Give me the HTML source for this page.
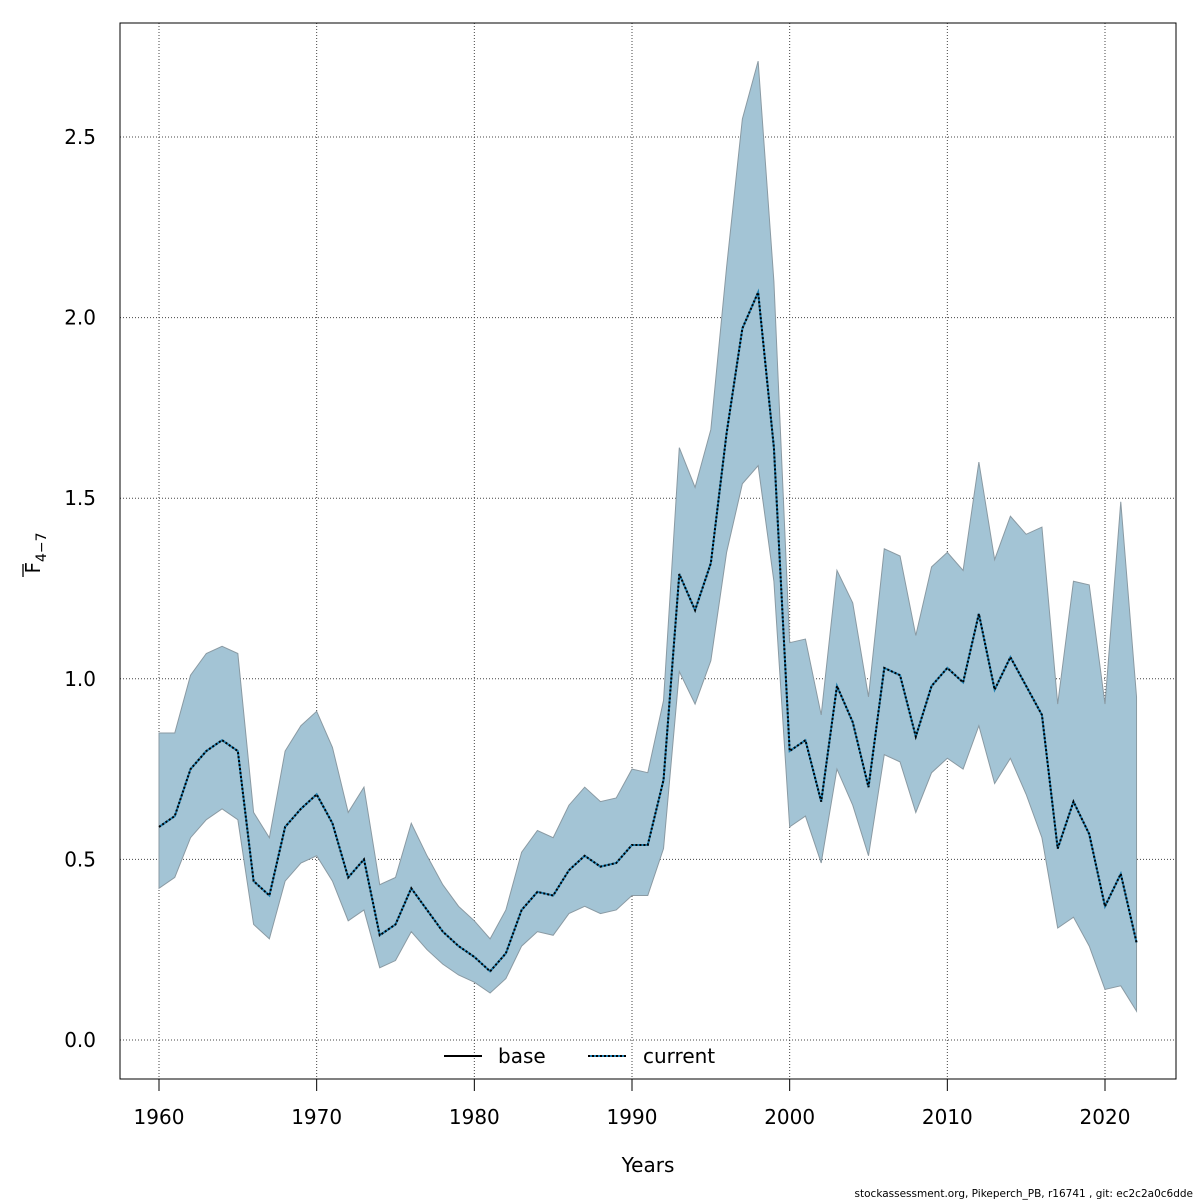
<!DOCTYPE html>
<html><head><meta charset="utf-8">
<style>
html,body{margin:0;padding:0;background:#fff;}
svg{display:block;font-family:"DejaVu Sans","Liberation Sans",sans-serif;}
</style></head>
<body>
<svg id="chart" width="1200" height="1200" viewBox="0 0 1200 1200" xmlns="http://www.w3.org/2000/svg">
<rect x="0" y="0" width="1200" height="1200" fill="#fff"/>
<g id="grid"></g>
<g id="band"></g>
<g id="lines"></g>
<rect x="120" y="23" width="1056" height="1056" fill="none" stroke="#000" stroke-width="1"/>
<g id="xaxis"></g>
<g id="yaxis"></g>
<text x="648" y="1172" font-size="20" text-anchor="middle">Years</text>
<g transform="translate(40,553) rotate(-90)">
  <text x="0" y="0" font-size="20" text-anchor="middle">F<tspan font-size="14" dy="6">4−7</tspan></text>
  <line x1="-24" y1="-17" x2="-11" y2="-17" stroke="#000" stroke-width="1.3"/>
</g>
<g>
  <g>
    <line x1="444" y1="1056" x2="482" y2="1056" stroke="#000" stroke-width="2"/>
    <text x="498" y="1063" font-size="20">base</text>
  </g>
  <g>
    <line x1="588" y1="1056" x2="626" y2="1056" stroke="#1f7fb0" stroke-width="2"/>
    <line x1="588" y1="1056" x2="626" y2="1056" stroke="#000" stroke-width="2" stroke-dasharray="2,2"/>
    <text x="643" y="1063" font-size="20">current</text>
  </g>
</g>
<text x="1193" y="1197" font-size="10.5" text-anchor="end">stockassessment.org, Pikeperch_PB, r16741 , git: ec2c2a0c6dde</text>
</svg>
<script>
const years = [];
for (let y = 1960; y <= 2022; y++) years.push(y);
const median = [0.59,0.62,0.75,0.80,0.83,0.80,0.44,0.40,0.59,0.64,0.68,0.60,0.45,0.50,0.29,0.32,0.42,0.36,0.30,0.26,0.23,0.19,0.24,0.36,0.41,0.40,0.47,0.51,0.48,0.49,0.54,0.54,0.72,1.29,1.19,1.32,1.68,1.97,2.07,1.64,0.80,0.83,0.66,0.98,0.88,0.70,1.03,1.01,0.84,0.98,1.03,0.99,1.18,0.97,1.06,0.98,0.90,0.53,0.66,0.57,0.37,0.46,0.27];
const upper = [0.85,0.85,1.01,1.07,1.09,1.07,0.63,0.56,0.80,0.87,0.91,0.81,0.63,0.70,0.43,0.45,0.60,0.51,0.43,0.37,0.33,0.28,0.36,0.52,0.58,0.56,0.65,0.70,0.66,0.67,0.75,0.74,0.94,1.64,1.53,1.69,2.14,2.55,2.71,2.10,1.10,1.11,0.90,1.30,1.21,0.95,1.36,1.34,1.12,1.31,1.35,1.30,1.60,1.33,1.45,1.40,1.42,0.93,1.27,1.26,0.93,1.49,0.95];
const lower = [0.42,0.45,0.56,0.61,0.64,0.61,0.32,0.28,0.44,0.49,0.51,0.44,0.33,0.36,0.20,0.22,0.30,0.25,0.21,0.18,0.16,0.13,0.17,0.26,0.30,0.29,0.35,0.37,0.35,0.36,0.40,0.40,0.53,1.02,0.93,1.05,1.35,1.54,1.59,1.27,0.59,0.62,0.49,0.75,0.65,0.51,0.79,0.77,0.63,0.74,0.78,0.75,0.87,0.71,0.78,0.68,0.56,0.31,0.34,0.26,0.14,0.15,0.08];
const xTicks = [1960,1970,1980,1990,2000,2010,2020];
const yTicks = [0.0,0.5,1.0,1.5,2.0,2.5];
const yTickLabels = ["0.0","0.5","1.0","1.5","2.0","2.5"];

const NS = "http://www.w3.org/2000/svg";
function xs(v){ return 159 + (v - 1960) * (1105 - 159) / 60; }
function ys(v){ return 1040 - v * (1040 - 137) / 2.5; }
function mk(tag, attrs, parent){
  const e = document.createElementNS(NS, tag);
  for (const k in attrs) e.setAttribute(k, attrs[k]);
  parent.appendChild(e); return e;
}
const grid = document.getElementById('grid');
const xa = document.getElementById('xaxis');
const ya = document.getElementById('yaxis');
xTicks.forEach(t => {
  const g = mk('line', {x1:xs(t), x2:xs(t), y1:23, y2:1079, stroke:'#444', 'stroke-width':1, 'stroke-dasharray':'1,2'}, grid);
  
  
  const tk = mk('line', {x1:xs(t), x2:xs(t), y1:1079, y2:1091, stroke:'#000'}, xa);
  
  
  const tx = mk('text', {x:xs(t), y:1124, 'font-size':20, 'text-anchor':'middle'}, xa);
  tx.textContent = t;
  
  
});
mk('line', {x1:xs(1960), x2:xs(2020), y1:1079, y2:1079, stroke:'#000'}, xa);
yTicks.forEach((t, i) => {
  const g = mk('line', {x1:120, x2:1176, y1:ys(t), y2:ys(t), stroke:'#444', 'stroke-width':1, 'stroke-dasharray':'1,2'}, grid);
  
  
  const tx = mk('text', {x:96, y:ys(t)+7, 'font-size':20, 'text-anchor':'end'}, ya);
  tx.textContent = yTickLabels[i];
  
  
});
let d = '';
years.forEach((y, i) => { d += (i ? 'L' : 'M') + xs(y) + ',' + ys(upper[i]); });
for (let i = years.length - 1; i >= 0; i--) d += 'L' + xs(years[i]) + ',' + ys(lower[i]);
d += 'Z';
const band = mk('path', {d:d, fill:'#a3c4d5', stroke:'#8a9aa3', 'stroke-width':1}, document.getElementById('band'));


const pts = years.map((y, i) => xs(y) + ',' + ys(median[i])).join(' ');
const L = document.getElementById('lines');
const base = mk('polyline', {points:pts, fill:'none', stroke:'#000', 'stroke-width':1.2}, L);


const cur1 = mk('polyline', {points:pts, fill:'none', stroke:'#1f7fb0', 'stroke-width':2}, L);


const cur2 = mk('polyline', {points:pts, fill:'none', stroke:'#000', 'stroke-width':2, 'stroke-dasharray':'2,2'}, L);


</script>
</body></html>
